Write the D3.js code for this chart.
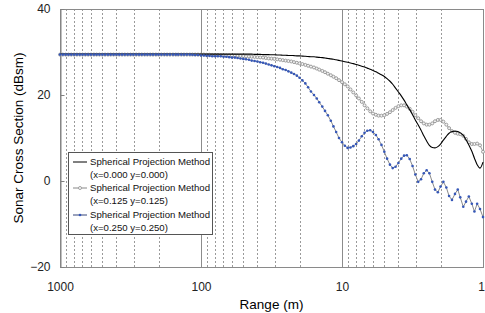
<!DOCTYPE html>
<html><head><meta charset="utf-8">
<script src="https://cdn.jsdelivr.net/npm/d3@7"></script>
<style>
html,body{margin:0;padding:0;background:#fff;}
svg{display:block;font-family:Arial,"Liberation Sans",sans-serif;}
</style></head>
<body><svg id="c" width="485" height="313"></svg>
<script>
const ranges = [
1000,955,912,871,832,794,759,724,692,661,631,603,575,550,525,501,479,457,437,417,398,380,363,347,331,316,302,288,275,263,251,240,229,219,209,200,191,182,174,166,158,151,145,138,132,126,120,115,110,105,
100,95.5,91.2,87.1,83.2,79.4,75.9,72.4,69.2,66.1,63.1,60.3,57.5,55.0,52.5,50.1,47.9,45.7,43.7,41.7,39.8,38.0,36.3,34.7,33.1,31.6,30.2,28.8,27.5,26.3,25.1,24.0,22.9,21.9,20.9,20.0,19.1,18.2,17.4,16.6,15.8,15.1,14.5,13.8,13.2,12.6,12.0,11.5,11.0,10.5,
10,9.55,9.12,8.71,8.32,7.94,7.59,7.24,6.92,6.61,6.31,6.03,5.75,5.50,5.25,5.01,4.79,4.57,4.37,4.17,3.98,3.80,3.63,3.47,3.31,3.16,3.02,2.88,2.75,2.63,2.51,2.40,2.29,2.19,2.09,2.00,1.91,1.82,1.74,1.66,1.58,1.51,1.45,1.38,1.32,1.26,1.20,1.15,1.10,1.05,
1];

// x=0.000 y=0.000 (black line)
const rcsCenter = [
29.5,29.5,29.5,29.5,29.5,29.5,29.5,29.5,29.5,29.5,29.5,29.5,29.5,29.5,29.5,29.5,29.5,29.5,29.5,29.5,
29.5,29.5,29.5,29.5,29.5,29.5,29.5,29.5,29.5,29.5,29.5,29.5,29.5,29.5,29.5,29.5,29.5,29.5,29.5,29.5,
29.5,29.5,29.5,29.5,29.5,29.5,29.5,29.5,29.5,29.5,29.5,29.5,29.5,29.5,29.5,29.5,29.5,29.5,29.5,29.5,
29.5,29.5,29.5,29.5,29.5,29.5,29.5,29.5,29.5,29.45,29.45,29.45,29.4,29.4,29.4,29.35,29.35,29.3,29.3,29.25,
29.25,29.2,29.2,29.15,29.1,29.1,29.05,29.0,28.95,28.9,28.9,28.8,28.75,28.7,28.6,28.5,28.4,28.3,28.2,28.05,
27.9,27.75,27.6,27.45,27.3,27.1,26.9,26.7,26.5,26.25,26.0,25.7,25.4,25.05,24.7,24.3,23.8,23.2,22.5,21.6,
20.7,19.8,18.8,17.7,16.6,15.4,14.2,13.0,11.8,10.5,9.3,8.3,7.8,7.7,8.0,8.6,9.5,10.4,11.1,11.5,
11.6,11.5,11.2,10.6,9.6,8.4,6.9,5.3,3.8,3.0,4.4];

// x=0.125 y=0.125 (grey open circles)
const rcsOffset125 = [
29.4,29.4,29.4,29.4,29.4,29.4,29.4,29.4,29.4,29.4,29.4,29.4,29.4,29.4,29.4,29.4,29.4,29.4,29.4,29.4,
29.4,29.4,29.4,29.4,29.4,29.4,29.4,29.4,29.4,29.4,29.4,29.4,29.4,29.4,29.4,29.4,29.4,29.4,29.4,29.4,
29.4,29.4,29.4,29.4,29.4,29.4,29.4,29.4,29.4,29.4,29.4,29.4,29.35,29.35,29.3,29.3,29.3,29.25,29.25,29.2,
29.2,29.15,29.15,29.1,29.1,29.05,29.0,28.95,28.9,28.85,28.8,28.75,28.7,28.6,28.5,28.45,28.4,28.3,28.2,28.1,
28.0,27.9,27.8,27.65,27.5,27.35,27.2,27.0,26.8,26.6,26.4,26.15,25.9,25.6,25.3,24.95,24.6,24.25,23.9,23.45,
23.0,22.5,22.0,21.3,20.6,19.9,19.2,18.4,17.6,16.9,16.2,15.7,15.4,15.2,15.2,15.3,15.6,16.0,16.5,17.0,
17.4,17.6,17.6,17.3,16.8,16.1,15.3,14.6,13.9,13.4,13.1,13.1,13.4,13.9,14.2,14.2,13.8,13.1,12.3,11.6,
11.2,11.0,10.9,10.5,9.8,9.0,8.6,8.6,8.7,8.3,6.8];

// x=0.250 y=0.250 (blue dots)
const rcsOffset250 = [
29.4,29.4,29.4,29.4,29.4,29.4,29.4,29.4,29.4,29.4,29.4,29.4,29.4,29.4,29.4,29.4,29.4,29.4,29.4,29.4,
29.4,29.4,29.4,29.4,29.4,29.4,29.4,29.4,29.4,29.4,29.4,29.4,29.4,29.4,29.4,29.4,29.4,29.4,29.4,29.4,
29.4,29.4,29.4,29.4,29.4,29.4,29.4,29.35,29.3,29.3,29.2,29.2,29.1,29.1,29.0,29.0,29.0,29.0,28.9,28.9,
28.8,28.7,28.7,28.6,28.5,28.4,28.3,28.2,28.0,27.9,27.8,27.6,27.5,27.3,27.1,26.9,26.7,26.5,26.3,26.0,
25.8,25.5,25.2,24.9,24.5,24.0,23.4,22.7,21.8,20.8,20.0,19.2,18.3,17.3,16.3,15.3,14.0,12.7,11.4,10.0,
9.0,8.2,7.7,7.8,8.1,8.6,9.4,10.4,11.2,11.7,11.8,11.4,10.7,9.7,8.4,6.8,5.2,3.8,3.0,3.3,
4.2,5.2,5.9,6.0,5.1,3.5,1.5,-0.2,0.4,1.8,2.5,1.8,-0.2,-2.0,-2.6,-1.3,-0.2,-1.5,-3.5,-4.4,
-3.0,-2.0,-3.8,-6.0,-4.8,-3.6,-5.3,-7.1,-5.3,-6.5,-8.4];

const xTicks = [1000, 100, 10, 1];
const yTicks = [-20, 0, 20, 40];
const legendTitles = ["Spherical Projection Method","Spherical Projection Method","Spherical Projection Method"];
const legendSubs = ["(x=0.000 y=0.000)","(x=0.125 y=0.125)","(x=0.250 y=0.250)"];

const svg = d3.select("#c");
const L = 60, R = 483, T = 9, B = 267;
const x = d3.scaleLog().domain([1000, 1]).range([L, R]);
const y = d3.scaleLinear().domain([-20, 40]).range([B, T]);

// vertical grid
const gridVals = x.ticks();
const isMajor = v => Math.abs(Math.log10(v) - Math.round(Math.log10(v))) < 1e-9;
svg.append("g").selectAll("line").data(gridVals.filter(v => v < 1000 && v > 1))
  .join("line")
  .attr("x1", d => Math.round(x(d)) + 0.5).attr("x2", d => Math.round(x(d)) + 0.5)
  .attr("y1", T).attr("y2", B)
  .attr("stroke", d => isMajor(d) ? "#8c8c8c" : "#9a9a9a")
  .attr("stroke-width", 1)
  .attr("stroke-dasharray", d => isMajor(d) ? null : "2,2");

// frame
svg.append("rect").attr("x", L + 0.5).attr("y", T + 0.5).attr("width", R - L).attr("height", B - T)
  .attr("fill", "none").attr("stroke", "#8a8a8a").attr("stroke-width", 1);

// y axis
const gy = svg.append("g").attr("transform", `translate(${L + 0.5},0)`)
  .call(d3.axisLeft(y).tickValues(yTicks).tickSizeInner(-4).tickSizeOuter(0).tickPadding(10));
gy.select(".domain").attr("stroke", "#808080");
gy.selectAll(".tick line").attr("stroke", "#808080");
gy.selectAll("text").attr("font-size", 12).attr("fill", "#222").attr("font-family", "Arial, 'Liberation Sans', sans-serif");

// x axis
const gx = svg.append("g").attr("transform", `translate(0,${B})`)
  .call(d3.axisBottom(x).tickValues(xTicks).tickFormat(d3.format("d")).tickSize(0).tickPadding(15));
gx.select(".domain").remove();
gx.selectAll("text").attr("font-size", 12).attr("fill", "#222").attr("font-family", "Arial, 'Liberation Sans', sans-serif")
  .attr("dx", d => d === 1 ? -2 : 0);

// axis titles
svg.append("text").attr("x", (L + R) / 2).attr("y", 309).attr("text-anchor", "middle")
  .attr("font-size", 13.5).attr("fill", "#000").text("Range (m)");
svg.append("text").attr("transform", `translate(23,${(T + B) / 2}) rotate(-90)`).attr("text-anchor", "middle")
  .attr("font-size", 13.5).attr("fill", "#000").text("Sonar Cross Section (dBsm)");

const pts = arr => arr.map((v, i) => [ranges[i], v]);
const line = d3.line().x(d => x(d[0])).y(d => y(d[1]));

const plot = svg.append("g");
// grey series
plot.append("path").datum(pts(rcsOffset125)).attr("d", line)
  .attr("fill", "none").attr("stroke", "#a0a0a0").attr("stroke-width", 1);
plot.append("g").selectAll("circle").data(pts(rcsOffset125)).join("circle")
  .attr("cx", d => x(d[0])).attr("cy", d => y(d[1])).attr("r", 1.5)
  .attr("fill", "#f4f4f4").attr("stroke", "#949494").attr("stroke-width", 0.9);
// black series
plot.append("path").datum(pts(rcsCenter)).attr("d", line.curve(d3.curveMonotoneX))
  .attr("fill", "none").attr("stroke", "#000").attr("stroke-width", 1.1);
// blue series
const line2 = d3.line().x(d => x(d[0])).y(d => y(d[1]));
plot.append("path").datum(pts(rcsOffset250)).attr("d", line2)
  .attr("fill", "none").attr("stroke", "#8a8a8a").attr("stroke-width", 1);
plot.append("g").selectAll("circle").data(pts(rcsOffset250)).join("circle")
  .attr("cx", d => x(d[0])).attr("cy", d => y(d[1])).attr("r", 1.3)
  .attr("fill", "#3557b8");

// legend
const lg = svg.append("g");
lg.append("rect").attr("x", 68.5).attr("y", 152.5).attr("width", 144).attr("height", 82)
  .attr("fill", "#fff").attr("stroke", "#555");
const rowY = [162, 188, 215];
const lineColors = ["#000", "#888", "#35457a"];
rowY.forEach((ry, k) => {
  lg.append("line").attr("x1", 73).attr("x2", 87).attr("y1", ry).attr("y2", ry)
    .attr("stroke", lineColors[k]).attr("stroke-width", 1);
  if (k === 1) lg.append("circle").attr("cx", 80).attr("cy", ry).attr("r", 1.5)
    .attr("fill", "#fff").attr("stroke", "#999").attr("stroke-width", 0.9);
  if (k === 2) lg.append("circle").attr("cx", 80).attr("cy", ry).attr("r", 1.3).attr("fill", "#3557b8");
  lg.append("text").attr("x", 90).attr("y", ry).attr("dy", "0.35em").attr("font-size", 9.6)
    .attr("fill", "#111").text(legendTitles[k]);
  lg.append("text").attr("x", 90).attr("y", ry + 13).attr("dy", "0.35em").attr("font-size", 9.6)
    .attr("fill", "#111").text(legendSubs[k]);
});
</script></body></html>
